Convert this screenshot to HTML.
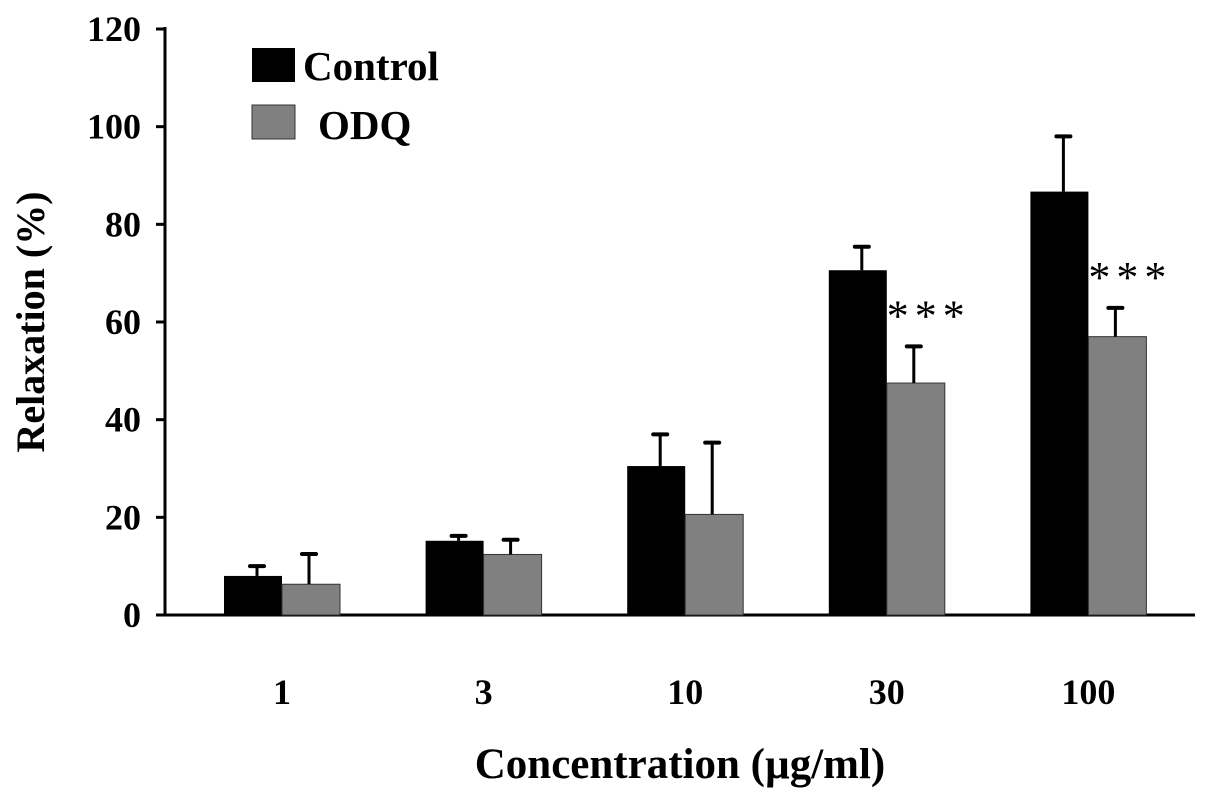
<!DOCTYPE html>
<html><head><meta charset="utf-8"><style>
body{margin:0;background:#fff}
svg{display:block}
text{font-family:"Liberation Serif",serif;fill:#000}
</style></head><body>
<svg id="chart" width="1205" height="800">
<g id="axes"></g><g id="bars"></g>
<g>
<rect x="252" y="48" width="43" height="34" fill="#000"/>
<text x="303" y="80" font-size="41" font-weight="bold">Control</text>
<rect x="252" y="105" width="43" height="34" fill="#808080" stroke="#333" stroke-width="1"/>
<text x="318" y="139" font-size="41" font-weight="bold">ODQ</text>
</g>
<text x="680" y="778" font-size="43" font-weight="bold" text-anchor="middle">Concentration (µg/ml)</text>
<text transform="translate(44,322) rotate(-90)" font-size="40" font-weight="bold" text-anchor="middle">Relaxation (%)</text>
</svg>
<script>
const categories=["1","3","10","30","100"];
const controlValues=[8,15.2,30.5,70.6,86.7];
const controlErrors=[2,1,6.5,4.8,11.3];
const odqValues=[6.3,12.4,20.6,47.5,57];
const odqErrors=[6.2,3,14.7,7.5,5.9];
const significance=["","","","***","***"];
const yTicks=[0,20,40,60,80,100,120];
const NS="http://www.w3.org/2000/svg";
const y0=615,pxPer=(615-29)/120;
function yScale(v){return y0-v*pxPer;}
function xGroup(i){return 282+i*201.6;}
const barW=58;
function mk(tag,attrs,parent){const e=document.createElementNS(NS,tag);for(const k in attrs)e.setAttribute(k,attrs[k]);parent.appendChild(e);return e;}
const axes=document.getElementById('axes'),bars=document.getElementById('bars');
let l=mk('line',{x1:165,y1:yScale(120)-2,x2:165,y2:y0+1.5,stroke:'#000','stroke-width':3},axes);


l=mk('line',{x1:163.5,y1:y0,x2:1195,y2:y0,stroke:'#000','stroke-width':3},axes);


yTicks.forEach(t=>{
 const tk=mk('line',{x1:156,y1:yScale(t),x2:165,y2:yScale(t),stroke:'#000','stroke-width':3},axes);
 
 
 const tx=mk('text',{x:141,y:yScale(t)+12,'font-size':36,'font-weight':'bold','text-anchor':'end'},axes);
 tx.textContent=t;
 
 
});
function errBar(cx,v,e){
 const top=yScale(v+e);
 const a=mk('line',{x1:cx,y1:yScale(v),x2:cx,y2:top,stroke:'#000','stroke-width':3},bars);
 
 
 const c=mk('line',{x1:cx-7,y1:top,x2:cx+7,y2:top,stroke:'#000','stroke-width':4,'stroke-linecap':'round'},bars);
 
 
}
categories.forEach((c,i)=>{
 const gx=xGroup(i);
 const b1=mk('rect',{x:gx-barW,y:yScale(controlValues[i]),width:barW,height:y0-yScale(controlValues[i]),fill:'#000'},bars);
 
 
 const b2=mk('rect',{x:gx,y:yScale(odqValues[i]),width:barW,height:y0-yScale(odqValues[i]),fill:'#808080',stroke:'#333','stroke-width':1},bars);
 
 
 errBar(gx-barW/2+4,controlValues[i],controlErrors[i]);
 errBar(gx+barW/2-2,odqValues[i],odqErrors[i]);
 const xl=mk('text',{x:gx,y:704,'font-size':36,'font-weight':'bold','text-anchor':'middle'},bars);
 xl.textContent=c;
 
 
 if(significance[i]){
  const s=mk('text',{x:gx+42,y:yScale(odqValues[i]+odqErrors[i])-16,'font-size':44,'text-anchor':'middle','letter-spacing':'6',fill:'#333'},bars);
  s.textContent=significance[i];
  
  
 }
});
</script>
</body></html>
